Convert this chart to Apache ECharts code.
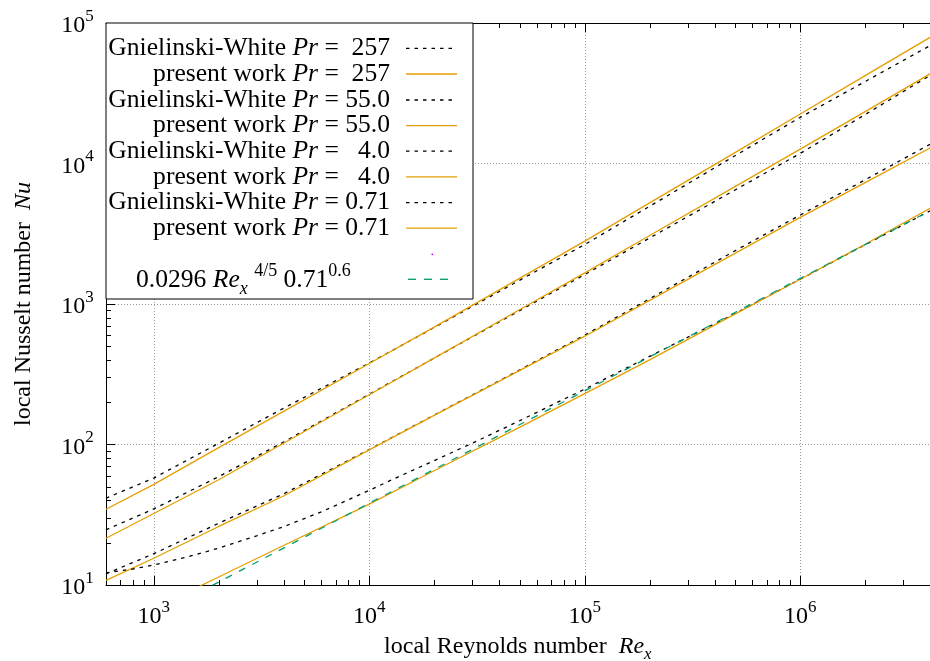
<!DOCTYPE html>
<html><head><meta charset="utf-8">
<script src="https://cdn.jsdelivr.net/npm/echarts@6/dist/echarts.min.js"></script>
<style>html,body{margin:0;padding:0;background:#fff}#c{width:930px;height:661px}</style>
</head><body><div id="c"></div>
<script>
// ---- data ----
const reynolds = [600, 1000, 2000, 4000, 1e4, 2e4, 5e4, 1e5, 2e5, 5e5, 1e6, 2e6, 4e6];
const gw257  = [41.5, 57.7, 102, 181, 380, 680, 1480, 2650, 4960, 11400, 21300, 38300, 69000];
const pw257  = [34.6, 52, 95, 172, 377, 684, 1528, 2800, 5240, 12000, 22500, 42200, 79000];
const gw55   = [24.7, 34.8, 59, 104, 228, 412, 900, 1620, 2950, 6500, 11800, 22300, 42300];
const pw55   = [21.5, 32.3, 56.1, 102, 226, 412, 914, 1667, 3070, 6870, 12650, 23400, 43400];
const gw4    = [12.0, 16.7, 27.5, 44.5, 92, 162, 340, 600, 1090, 2400, 4300, 7650, 13700];
const pw4    = [10.8, 15.5, 26.1, 43, 91.5, 161, 337, 590, 1061, 2300, 4140, 7310, 12900];
const pw071  = [4.6, 6.8, 11.4, 19.1, 37.6, 65, 133, 230, 400, 850, 1500, 2660, 4800];
const corr071 = [4.0, 6.05, 10.5, 18.3, 38.2, 66.5, 138.7, 241, 420, 873, 1521, 2648, 4610];
// the Gnielinski-White Pr = 0.71 curve bends at low Re, so it is read at more points
const reynoldsGW071 = [600, 800, 1000, 1400, 2000, 3000, 4000, 6000, 1e4, 1.4e4, 2e4, 3e4, 5e4,
  1e5, 2e5, 5e5, 1e6, 2e6, 4e6];
const gw071 = [12.2, 13.0, 13.9, 15.7, 18.3, 22.4, 26.0, 33.2, 47.2, 60, 76.8, 102, 148,
  248, 424, 858, 1500, 2640, 4600];

const xTickExponents = [3, 4, 5, 6];
const yTickExponents = [1, 2, 3, 4, 5];
const xMinorTicks = [700, 800, 900, 2000, 3000, 4000, 5000, 6000, 7000, 8000, 9000,
  20000, 30000, 40000, 50000, 60000, 70000, 80000, 90000,
  200000, 300000, 400000, 500000, 600000, 700000, 800000, 900000, 2000000, 3000000];
const yMinorTicks = [20, 30, 40, 50, 60, 70, 80, 90, 200, 300, 400, 500, 600, 700, 800, 900,
  2000, 3000, 4000, 5000, 6000, 7000, 8000, 9000, 20000, 30000, 40000, 50000, 60000, 70000, 80000, 90000];

const prLabels = ['257', '257', '55.0', '55.0', '4.0', '4.0', '0.71', '0.71'];
const prefixLabels = ['Gnielinski-White ', 'present work ', 'Gnielinski-White ', 'present work ',
  'Gnielinski-White ', 'present work ', 'Gnielinski-White ', 'present work '];
const prGap = {'257': '  ', '55.0': ' ', '4.0': '   ', '0.71': ' '};

// ---- styling ----
const FONT = "'Liberation Serif', 'DejaVu Serif', serif";
const ORANGE = '#e69f00', GREEN = '#009e73';
const dotted = {color: '#000', width: 1.3, type: [3.5, 5]};
const solid = {color: ORANGE, width: 1.3};
const pairs = (xs, ys) => xs.map((r, i) => [r, ys[i]]);
const lineSeries = (xs, ys, ls) => ({type: 'line', data: pairs(xs, ys), lineStyle: ls, symbol: 'none',
  showSymbol: false, silent: true, z: 2, xAxisIndex: 0, yAxisIndex: 0});

const expOf = v => { const l = Math.log10(v); const e = Math.round(l); return Math.abs(l - e) < 1e-6 ? e : null; };
const tickRich = {
  b: {fontFamily: FONT, fontSize: 24, lineHeight: 24, verticalAlign: 'bottom', color: '#000'},
  s: {fontFamily: FONT, fontSize: 17, lineHeight: 16, verticalAlign: 'top', color: '#000'},
  z: {fontSize: 1, lineHeight: 30}
};
const fmt = list => v => { const e = expOf(v); return (e !== null && list.includes(e)) ? '{b|10}{s|' + e + '}{z| }' : ''; };

// ---- legend (graphic) ----
const rowY = [48.3, 74, 100, 125.7, 151.2, 176.8, 202.6, 228.2];
const legendRich = {
  n: {fontFamily: FONT, fontSize: 25.6, color: '#000'},
  i: {fontFamily: FONT, fontSize: 25.6, fontStyle: 'italic', color: '#000'}
};
const graphics = [{type: 'rect', z: 100, shape: {x: 106, y: 23, width: 367, height: 276},
  style: {fill: '#fff', stroke: '#000', lineWidth: 1}}];
prLabels.forEach((pr, k) => {
  graphics.push({type: 'text', z: 101, x: 390, y: rowY[k], style: {
    text: '{n|' + prefixLabels[k] + '}{i|Pr}{n| =' + prGap[pr] + pr + '}', rich: legendRich,
    align: 'right', verticalAlign: 'middle', textAlign: 'right', textVerticalAlign: 'middle'}});
  const isGW = k % 2 === 0;
  graphics.push({type: 'line', z: 101, shape: {x1: 406, y1: rowY[k], x2: 457, y2: rowY[k]},
    style: {stroke: isGW ? '#000' : ORANGE, lineWidth: 1.3, lineDash: isGW ? [3.5, 5] : null}});
});
graphics.push({type: 'circle', z: 101, shape: {cx: 432.3, cy: 254.3, r: 0.9}, style: {fill: '#c000ff'}});
graphics.push({type: 'text', z: 101, x: 136, y: 280, style: {
  text: '{n|0.0296 }{i|Re}{sb|x}{n| }{sp|4/5}{n| 0.71}{sp|0.6}{z| }',
  rich: {
    n: {fontFamily: FONT, fontSize: 25.6, lineHeight: 25, verticalAlign: 'middle', color: '#000'},
    i: {fontFamily: FONT, fontSize: 25.6, lineHeight: 25, fontStyle: 'italic', verticalAlign: 'middle', color: '#000'},
    sb: {fontFamily: FONT, fontSize: 18, lineHeight: 22, fontStyle: 'italic', verticalAlign: 'bottom', color: '#000'},
    sp: {fontFamily: FONT, fontSize: 18, lineHeight: 12, verticalAlign: 'top', color: '#000'},
    z: {fontSize: 1, lineHeight: 36}
  },
  align: 'left', verticalAlign: 'middle', textAlign: 'left', textVerticalAlign: 'middle'}});
graphics.push({type: 'line', z: 101, shape: {x1: 408, y1: 279.3, x2: 450, y2: 279.3},
  style: {stroke: GREEN, lineWidth: 1.3, lineDash: [8, 8]}});

const chart = echarts.init(document.getElementById('c'), null, {renderer: 'canvas'});
chart.setOption({
  animation: false,
  backgroundColor: '#fff',
  grid: {left: 106, top: 23, right: 0, bottom: 76, containLabel: false, outerBoundsMode: 'none'},
  xAxis: [{
    type: 'log', logBase: 10, min: 600, max: 4e6, position: 'bottom',
    name: '{n|local Reynolds number  }{i|Re}{sb|x}{z| }', nameLocation: 'middle', nameGap: 50,
    nameTextStyle: {rich: {
      n: {fontFamily: FONT, fontSize: 24, lineHeight: 24, verticalAlign: 'top', color: '#000'},
      i: {fontFamily: FONT, fontSize: 24, lineHeight: 24, fontStyle: 'italic', verticalAlign: 'top', color: '#000'},
      sb: {fontFamily: FONT, fontSize: 17, lineHeight: 20, fontStyle: 'italic', verticalAlign: 'bottom', color: '#000'},
      z: {fontSize: 1, lineHeight: 28}
    }},
    axisLine: {show: true, onZero: false, lineStyle: {color: '#000', width: 1}},
    axisTick: {show: true, inside: true, length: 9, lineStyle: {color: '#000', width: 1}},
    axisLabel: {show: true, margin: 14, formatter: fmt(xTickExponents), rich: tickRich, showMinLabel: true, showMaxLabel: true, hideOverlap: false},
    splitLine: {show: true, lineStyle: {color: '#9a9a9a', width: 1, type: [1, 2]}},
    minorTick: {show: false}
  }, {
    type: 'log', logBase: 10, min: 600, max: 4e6, position: 'top',
    axisLine: {show: true, onZero: false, lineStyle: {color: '#000', width: 1}},
    axisTick: {show: true, inside: true, length: 9, lineStyle: {color: '#000', width: 1}},
    axisLabel: {show: false}, splitLine: {show: false}
  }],
  yAxis: [{
    type: 'log', logBase: 10, min: 10, max: 1e5,
    name: '{n|local Nusselt number  }{i|Nu}', nameLocation: 'middle', nameGap: 70, nameRotate: 90,
    nameTextStyle: {rich: {
      n: {fontFamily: FONT, fontSize: 24, lineHeight: 24, color: '#000'},
      i: {fontFamily: FONT, fontSize: 24, lineHeight: 24, fontStyle: 'italic', color: '#000'}
    }},
    axisLine: {show: true, onZero: false, lineStyle: {color: '#000', width: 1}},
    axisTick: {show: true, inside: true, length: 9, lineStyle: {color: '#000', width: 1}},
    axisLabel: {show: true, margin: 12, formatter: fmt(yTickExponents), rich: tickRich, showMinLabel: true, showMaxLabel: true, hideOverlap: false},
    splitLine: {show: true, lineStyle: {color: '#9a9a9a', width: 1, type: [1, 2]}}
  }],
  graphic: graphics,
  series: [
    lineSeries(reynolds, gw257, dotted), lineSeries(reynolds, pw257, solid),
    lineSeries(reynolds, gw55, dotted), lineSeries(reynolds, pw55, solid),
    lineSeries(reynolds, gw4, dotted), lineSeries(reynolds, pw4, solid),
    lineSeries(reynoldsGW071, gw071, dotted), lineSeries(reynolds, pw071, solid),
    lineSeries(reynolds, corr071, {color: GREEN, width: 1.3, type: [7, 8]}),
    {type: 'custom', silent: true, z: 5, xAxisIndex: 0, yAxisIndex: 0,
      data: xMinorTicks.map(v => [v, 100]),
      renderItem: (params, api) => {
        const cs = params.coordSys;
        const px = Math.round(api.coord([api.value(0), 100])[0]) + 0.5;
        const yb = cs.y + cs.height, yt = cs.y;
        return {type: 'group', children: [
          {type: 'line', shape: {x1: px, y1: yb, x2: px, y2: yb - 5}, style: {stroke: '#000', lineWidth: 1}},
          {type: 'line', shape: {x1: px, y1: yt, x2: px, y2: yt + 5}, style: {stroke: '#000', lineWidth: 1}}
        ]};
      }},
    {type: 'custom', silent: true, z: 5, xAxisIndex: 0, yAxisIndex: 0,
      data: yMinorTicks.map(v => [1000, v]),
      renderItem: (params, api) => {
        const cs = params.coordSys;
        const py = Math.round(api.coord([1000, api.value(1)])[1]) + 0.5;
        return {type: 'line', shape: {x1: cs.x, y1: py, x2: cs.x + 5, y2: py}, style: {stroke: '#000', lineWidth: 1}};
      }}
  ]
});
</script>
</body></html>
